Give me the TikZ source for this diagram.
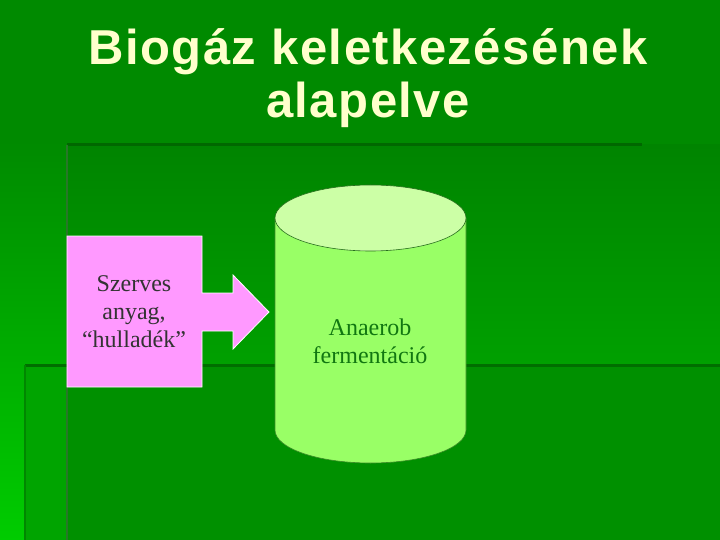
\documentclass[tikz,border=0pt]{standalone}
\usepackage{fontspec}
\setmainfont{Liberation Serif}
\newfontfamily\titlefont{Liberation Sans}[LetterSpace=3]
\definecolor{bgtop}{HTML}{008A00}
\definecolor{bgbot}{HTML}{00CC00}
\definecolor{pinkfill}{HTML}{FF99FF}
\definecolor{cylbody}{HTML}{99FF66}
\definecolor{cyltop}{HTML}{CCFFA6}
\definecolor{titlecol}{HTML}{FFFFCC}
\definecolor{lbltext}{HTML}{333333}
\definecolor{cyltext}{HTML}{117711}
\definecolor{darkline}{HTML}{006800}
\tikzset{
  lbl/.style={align=center, font=\fontsize{24}{28}\selectfont, inner sep=0pt},
  ttl/.style={align=center, text=titlecol, font=\titlefont\bfseries\fontsize{49}{53}\selectfont, inner sep=0pt}
}
\begin{document}
\begin{tikzpicture}[x=1pt,y=-1pt]
\useasboundingbox (0,0) rectangle (720,540);
% background
\fill[bgtop] (0,0) rectangle (720,141);
\shade[top color=bgtop, bottom color=bgbot] (0,140) rectangle (720,540);
% lower block
\fill[color={rgb,255:red,0;green,164;blue,0}] (25,364) rectangle (720,540);
\fill[color={rgb,255:red,0;green,144;blue,0}] (67,364) rectangle (720,540);
% inner upper block
\shade[top color={rgb,255:red,0;green,132;blue,0}, bottom color={rgb,255:red,0;green,160;blue,0}] (67,145) rectangle (720,364);
% edge lines
\draw[darkline, line width=3pt] (67,145) -- (642,145);
\draw[color={rgb,255:red,40;green,120;blue,40}, line width=2pt] (67,145) -- (67,540);
\draw[color={rgb,255:red,0;green,110;blue,0}, line width=3pt] (25,365) -- (720,365);
\draw[color={rgb,255:red,0;green,135;blue,0}, line width=1.5pt] (25,365) -- (25,540);
% title
\node[ttl] (title) at (368,78) {Biogáz keletkezésének\\alapelve};
% pink box with arrow
\draw[draw=white, line width=0.8pt, fill=pinkfill]
  (67,236) -- (202,236) -- (202,293) -- (233,293) -- (233,275) -- (269,312)
  -- (233,349) -- (233,331) -- (202,331) -- (202,387) -- (67,387) -- cycle;
\node[lbl, text=lbltext] (input) at (134,312) {Szerves\\anyag,\\“hulladék”};
% cylinder
\fill[cylbody] (275,218) -- (275,430) arc[start angle=180, end angle=0, x radius=95.5, y radius=33] -- (466,218) -- cycle;
\draw[color={rgb,255:red,60;green,140;blue,40}, line width=0.6pt] (275,218) -- (275,430) arc[start angle=180, end angle=0, x radius=95.5, y radius=33] -- (466,218);
\draw[fill=cyltop, draw={rgb,255:red,40;green,110;blue,30}, line width=0.6pt] (370.5,218) ellipse[x radius=95.5, y radius=33];
\node[lbl, text=cyltext] (ferm) at (370,341) {Anaerob\\fermentáció};
\end{tikzpicture}
\end{document}
